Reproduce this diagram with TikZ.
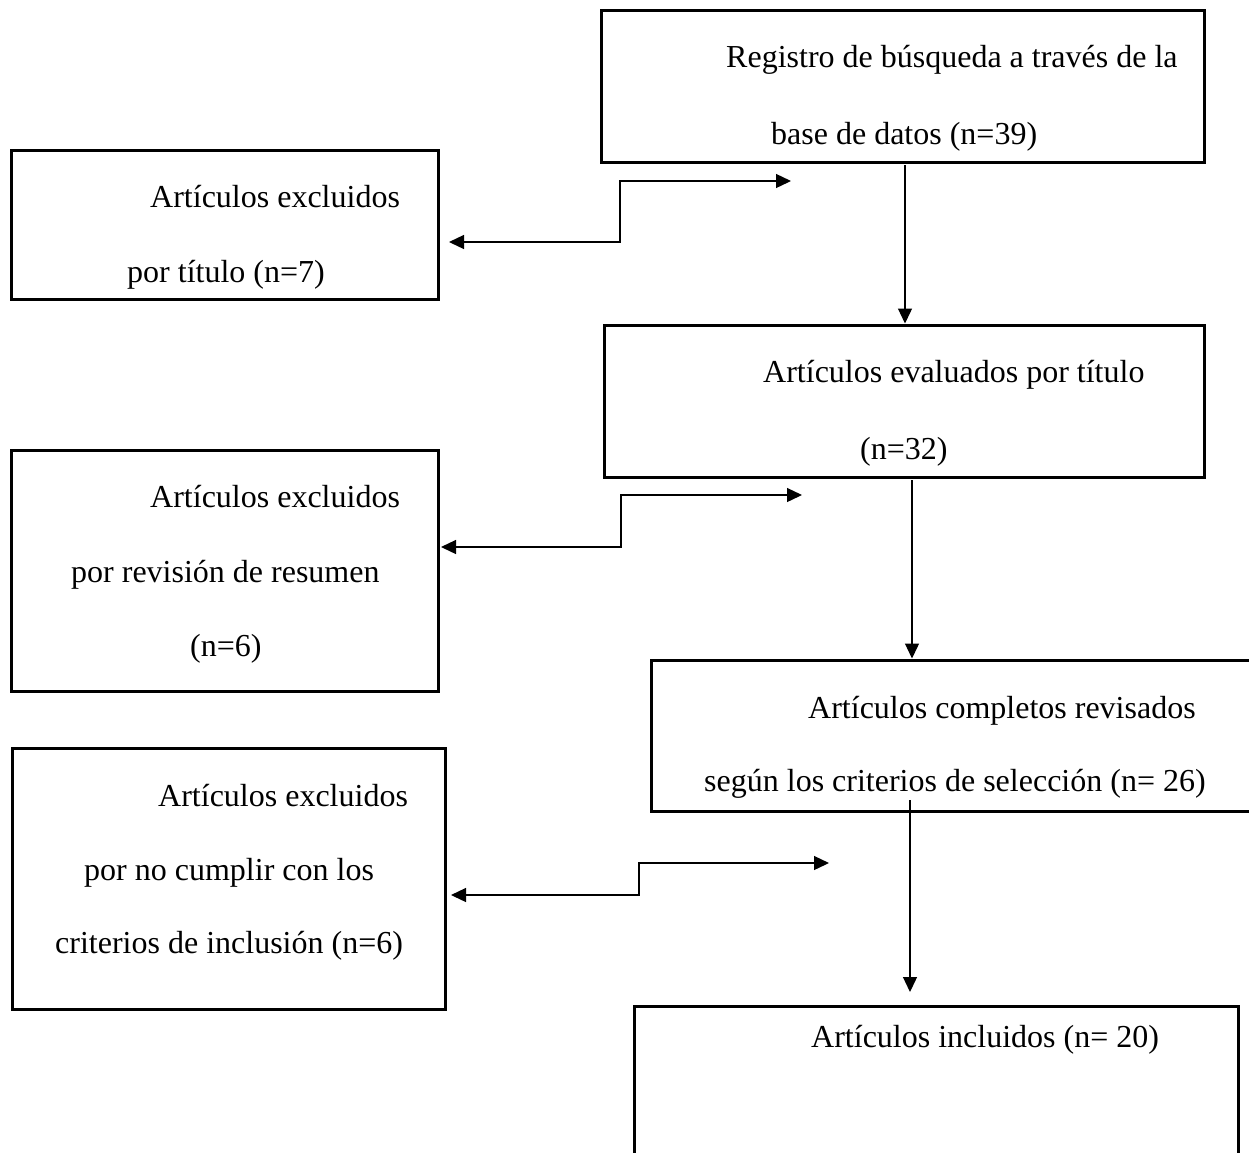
\documentclass[tikz,border=0pt]{standalone}
\usepackage{fontspec}
\setmainfont{Liberation Serif}
\usetikzlibrary{arrows.meta}
\tikzset{
  box/.style={draw=black, line width=3pt, rectangle, inner sep=0pt},
  txt/.style={inner sep=0pt, anchor=base west, font=\fontsize{32pt}{38pt}\selectfont},
  conn/.style={draw=black, line width=1.3pt, -{Triangle[length=15pt,width=14pt]}},
  dconn/.style={draw=black, line width=1.3pt, {Triangle[length=15pt,width=14pt]}-{Triangle[length=15pt,width=14pt]}}
}
\begin{document}
\begin{tikzpicture}[x=1pt,y=-1pt]
\useasboundingbox (0,0) rectangle (1249,1152);
\clip (0,0) rectangle (1249,1152);
% boxes (corner coordinates in px, y downward)
\node[box, minimum width=603pt, minimum height=152pt] (b1) at (902.5,86) {};
\node[box, minimum width=427pt, minimum height=149pt] (l1) at (224.5,224.5) {};
\node[box, minimum width=600pt, minimum height=152pt] (b2) at (904,401) {};
\node[box, minimum width=427pt, minimum height=241pt] (l2) at (224.5,570.5) {};
\node[box, minimum width=620pt, minimum height=151pt] (b3) at (961,735.5) {};
\node[box, minimum width=433pt, minimum height=261pt] (l3) at (228.5,878.5) {};
\node[box, minimum width=604pt, minimum height=170pt] (b4) at (936,1091) {};
% texts
\node[txt] (t1a) at (726,67) {Registro de búsqueda a través de la};
\node[txt] (t1b) at (771,144) {base de datos (n=39)};
\node[txt] (tl1a) at (150,207) {Artículos excluidos};
\node[txt] (tl1b) at (127,282) {por título (n=7)};
\node[txt] (t2a) at (763,382) {Artículos evaluados por título};
\node[txt] (t2b) at (860,459) {(n=32)};
\node[txt] (tl2a) at (150,507) {Artículos excluidos};
\node[txt] (tl2b) at (71,582) {por revisión de resumen};
\node[txt] (tl2c) at (190,656) {(n=6)};
\node[txt] (t3a) at (808,718) {Artículos completos revisados};
\node[txt] (t3b) at (704,791) {según los criterios de selección (n= 26)};
\node[txt] (tl3a) at (158,806) {Artículos excluidos};
\node[txt] (tl3b) at (84,880) {por no cumplir con los};
\node[txt] (tl3c) at (55,953) {criterios de inclusión (n=6)};
\node[txt] (t4a) at (811,1047) {Artículos incluidos (n= 20)};
% vertical connectors
\coordinate (v1s) at (905,165);
\draw[conn] (v1s) -- (v1s |- b2.north);
\coordinate (v2s) at (912,480);
\draw[conn] (v2s) -- (v2s |- b3.north);
\coordinate (v3s) at (910,800);
\coordinate (v3e) at (910,992);
\draw[conn] (v3s) -- (v3e);
% elbow double arrows
\coordinate (e1l) at (449,242);
\coordinate (e1r) at (791,181);
\draw[dconn] (e1l) -- (620,242) -- (620,181) -- (e1r);
\coordinate (e2l) at (441,547);
\coordinate (e2r) at (802,495);
\draw[dconn] (e2l) -- (621,547) -- (621,495) -- (e2r);
\coordinate (e3l) at (451,895);
\coordinate (e3r) at (829,863);
\draw[dconn] (e3l) -- (639,895) -- (639,863) -- (e3r);
\end{tikzpicture}
\end{document}
